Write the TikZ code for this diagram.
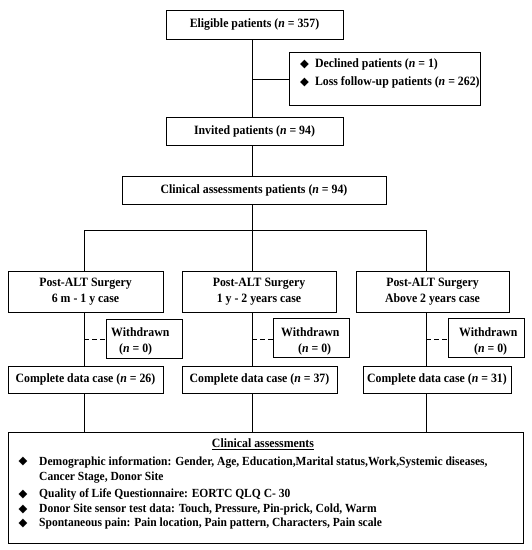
\documentclass[tikz,border=0pt]{standalone}
\usepackage{fontspec}
\setmainfont{Liberation Serif}[FakeStretch=0.93]
\newfontfamily\dejavu{DejaVu Sans}
\newcommand\dia{{\dejavu\fontsize{11.5}{11.5}\selectfont ◆}}
\begin{document}
\begin{tikzpicture}[x=1pt,y=-1pt,
  box/.style={draw, line width=0.9pt, inner sep=0pt, align=center,
    font=\fontsize{12.7}{16}\selectfont\bfseries},
  txt/.style={inner sep=0pt, font=\fontsize{12.7}{16}\selectfont\bfseries},
  btxt/.style={inner sep=0pt, font=\fontsize{12.4}{16}\selectfont\bfseries},
  conn/.style={line width=0.9pt},
  dconn/.style={line width=0.9pt, dash pattern=on 5pt off 3pt}]
\useasboundingbox (0,0) rectangle (532,550);
% boxes
\node[box,minimum width=177pt,minimum height=29pt] (elig) at (254.5,24.5) {Eligible patients (\textit{n} = 357)};
\node[box,minimum width=191pt,minimum height=53pt] (side) at (384.5,78.5) {};
\node[txt,anchor=west] (s1) at (300,64) {\dia\hspace{6pt}Declined patients (\textit{n} = 1)};
\node[txt,anchor=west] (s2) at (300,82) {\dia\hspace{6pt}Loss follow-up patients (\textit{n} = 262)};
\node[box,minimum width=177pt,minimum height=28pt] (inv) at (254.5,131) {Invited patients (\textit{n} = 94)};
\node[box,minimum width=264pt,minimum height=28pt] (clin) at (254,190) {Clinical assessments patients (\textit{n} = 94)};
\node[box,minimum width=155pt,minimum height=41pt] (p1) at (85.5,291.5) {Post-ALT Surgery\\6 m - 1 y case};
\node[box,minimum width=154pt,minimum height=41pt] (p2) at (259,291.5) {Post-ALT Surgery\\1 y - 2 years case};
\node[box,minimum width=153pt,minimum height=41pt] (p3) at (432.5,291.5) {Post-ALT Surgery\\Above 2 years case};
\node[box,minimum width=76pt,minimum height=39pt] (w1) at (144,338.5) {};
\node[box,minimum width=76pt,minimum height=39pt] (w2) at (311,337.5) {};
\node[box,minimum width=76pt,minimum height=39pt] (w3) at (486,337.5) {};
\node[txt,anchor=west] (w1a) at (111,332) {Withdrawn};
\node[txt,anchor=west] (w1b) at (119,349) {(\textit{n} = 0)};
\node[txt,anchor=west] (w2a) at (281,332) {Withdrawn};
\node[txt,anchor=west] (w2b) at (298,349) {(\textit{n} = 0)};
\node[txt,anchor=west] (w3a) at (459,332) {Withdrawn};
\node[txt,anchor=west] (w3b) at (474,349) {(\textit{n} = 0)};
\node[box,minimum width=155pt,minimum height=27pt] (c1) at (85.5,379.5) {Complete data case (\textit{n} = 26)};
\node[box,minimum width=155pt,minimum height=27pt] (c2) at (259.5,379.5) {Complete data case (\textit{n} = 37)};
\node[box,minimum width=148pt,minimum height=27pt] (c3) at (437,379.5) {Complete data case (\textit{n} = 31)};
\node[box,minimum width=515pt,minimum height=111pt] (bot) at (265.5,487.5) {};
\node[txt] (title) at (263,444) {\underline{Clinical assessments}};
\node[btxt] (d1) at (23,462) {\dia};
\node[btxt,anchor=west] (l1) at (39,462) {Demographic information: Gender, Age, Education,Marital status,Work,Systemic diseases,};
\node[btxt,anchor=west] (l1b) at (39,477.5) {Cancer Stage, Donor Site};
\node[btxt] (d2) at (23,494.5) {\dia};
\node[btxt,anchor=west] (l2) at (39,494.5) {Quality of Life Questionnaire: EORTC QLQ C- 30};
\node[btxt] (d3) at (23,509.5) {\dia};
\node[btxt,anchor=west] (l3) at (39,509.5) {Donor Site sensor test data: Touch, Pressure, Pin-prick, Cold, Warm};
\node[btxt] (d4) at (23,524) {\dia};
\node[btxt,anchor=west] (l4) at (39,524) {Spontaneous pain: Pain location, Pain pattern, Characters, Pain scale};
% connectors
\coordinate (m) at (252,0);
\coordinate (j1) at (252,79);
\coordinate (b0) at (252,230);
\coordinate (bl) at (84,230);
\coordinate (br) at (426,230);
\draw[conn] (elig.south -| m) -- (inv.north -| m);
\draw[conn] (j1) -- (j1 -| side.west);
\draw[conn] (inv.south -| m) -- (clin.north -| m);
\draw[conn] (clin.south -| m) -- (b0);
\draw[conn] (bl) -- (br);
\draw[conn] (bl) -- (p1.north -| bl);
\draw[conn] (b0) -- (p2.north -| b0);
\draw[conn] (br) -- (p3.north -| br);
\draw[conn] (p1.south -| bl) -- (c1.north -| bl);
\draw[conn] (p2.south -| b0) -- (c2.north -| b0);
\draw[conn] (p3.south -| br) -- (c3.north -| br);
\draw[conn] (c1.south -| bl) -- (bot.north -| bl);
\draw[conn] (c2.south -| b0) -- (bot.north -| b0);
\draw[conn] (c3.south -| br) -- (bot.north -| br);
\coordinate (k1) at (84,339);
\coordinate (k2) at (252,339);
\coordinate (k3) at (426,339);
\draw[dconn] (k1) -- (k1 -| w1.west);
\draw[dconn] (k2) -- (k2 -| w2.west);
\draw[dconn] (k3) -- (k3 -| w3.west);
\end{tikzpicture}
\end{document}
